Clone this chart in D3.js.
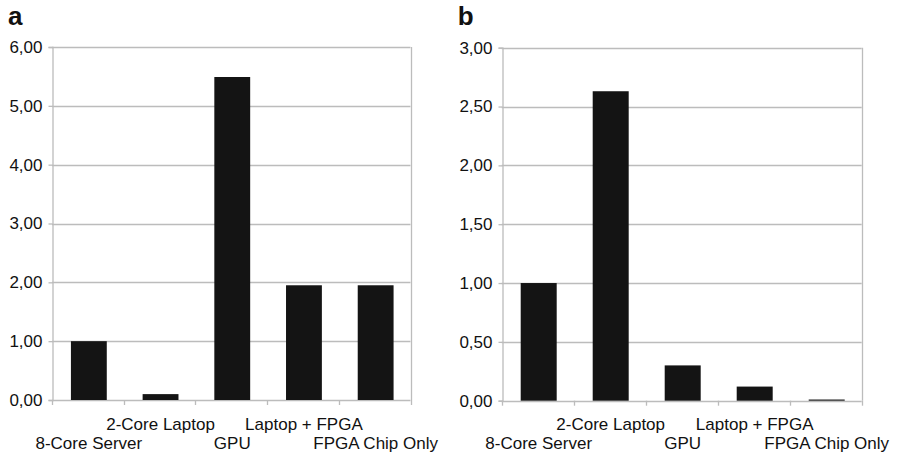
<!DOCTYPE html>
<html>
<head>
<meta charset="utf-8">
<script src="https://cdn.jsdelivr.net/npm/d3@7"></script>
<style>
  body { margin: 0; background: #fff; }
  svg { font-family: "Liberation Sans", Arial, sans-serif; }
</style>
</head>
<body>
<div id="chart"></div>
<script>
// Data
const categories = ["8-Core Server", "2-Core Laptop", "GPU", "Laptop + FPGA", "FPGA Chip Only"];
const valuesA = [1.00, 0.10, 5.49, 1.95, 1.95];
const valuesB = [1.00, 2.63, 0.30, 0.12, 0.01];
const ticksA = [0, 1, 2, 3, 4, 5, 6];
const ticksB = [0, 0.5, 1, 1.5, 2, 2.5, 3];

const svg = d3.select("#chart").append("svg")
    .attr("width", 897)
    .attr("height", 456);

const locale = d3.formatLocale({decimal: ",", thousands: ".", grouping: [3], currency: ["", ""]});
const fmt = locale.format(".2f");

function drawPanel(letter, values, ticks, left, right, top, bottom) {
    const g = svg.append("g");

    const x = d3.scaleBand().domain(categories).range([left, right]);
    const y = d3.scaleLinear().domain([0, d3.max(ticks)]).range([bottom, top]);

    // panel letter
    g.append("text")
        .attr("x", left - 44)
        .attr("y", 25)
        .attr("font-size", 26)
        .attr("font-weight", "bold")
        .attr("fill", "#111")
        .text(letter);

    // gridlines
    g.selectAll(".grid")
        .data(ticks)
        .join("line")
        .attr("x1", left)
        .attr("x2", right)
        .attr("y1", d => Math.round(y(d)) + 0.5)
        .attr("y2", d => Math.round(y(d)) + 0.5)
        .attr("stroke", "#bcbcbc")
        .attr("stroke-width", 1.3);

    // right border
    g.append("line")
        .attr("x1", Math.round(right) + 0.5)
        .attr("x2", Math.round(right) + 0.5)
        .attr("y1", top)
        .attr("y2", bottom)
        .attr("stroke", "#bcbcbc")
        .attr("stroke-width", 1.3);

    // bars
    g.selectAll(".bar")
        .data(values)
        .join("rect")
        .attr("x", (d, i) => x(categories[i]) + x.bandwidth() * 0.25 + 1)
        .attr("width", x.bandwidth() * 0.5)
        .attr("y", d => y(d))
        .attr("height", d => y(0) - y(d))
        .attr("fill", "#141414");

    // y axis
    const yAxis = g.append("g")
        .attr("transform", `translate(${Math.round(left) + 0.5},0)`)
        .call(d3.axisLeft(y).tickValues(ticks).tickFormat(fmt).tickSize(4).tickPadding(6));
    yAxis.select(".domain").attr("stroke", "#bcbcbc").attr("stroke-width", 1.3);
    yAxis.selectAll(".tick line").attr("stroke", "#bcbcbc").attr("stroke-width", 1.3);
    yAxis.selectAll("text").attr("font-size", 17).attr("fill", "#111")
        .attr("font-family", "Liberation Sans, Arial, sans-serif");

    // x axis ticks at category boundaries
    const bounds = categories.map(c => x(c)).concat([right]);
    g.selectAll(".xt")
        .data(bounds)
        .join("line")
        .attr("x1", d => Math.round(d) + 0.5)
        .attr("x2", d => Math.round(d) + 0.5)
        .attr("y1", y(0))
        .attr("y2", y(0) + 5)
        .attr("stroke", "#bcbcbc")
        .attr("stroke-width", 1.3);

    // category labels (staggered)
    g.selectAll(".xl")
        .data(categories)
        .join("text")
        .attr("x", d => x(d) + x.bandwidth() / 2 + 1)
        .attr("y", (d, i) => i % 2 === 0 ? 449 : 430)
        .attr("text-anchor", "middle")
        .attr("font-size", 17)
        .attr("fill", "#111")
        .text(d => d);
}

drawPanel("a", valuesA, ticksA, 52, 410.5, 47, 400);
drawPanel("b", valuesB, ticksB, 501.7, 861.7, 47.7, 400.7);
</script>
</body>
</html>
